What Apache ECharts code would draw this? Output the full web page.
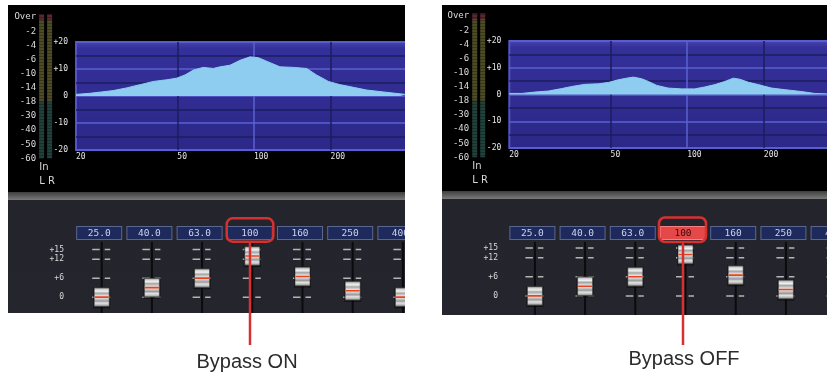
<!DOCTYPE html>
<html><head><meta charset="utf-8">
<script src="https://cdn.jsdelivr.net/npm/echarts@6/dist/echarts.min.js"></script>
<style>
html,body{margin:0;padding:0;background:#fff;width:827px;height:373px;overflow:hidden;}
.p{position:absolute;overflow:hidden;}
</style></head><body>
<div id="left" class="p" style="left:8px;top:5px;width:397px;height:368px;background:linear-gradient(to bottom,#000 0,#000 187px,#3e3e3e 187px,#7a7a7a 195px,#24252c 195px,#25262d 308px,#fff 308px,#fff 368px)"></div>
<div id="right" class="p" style="left:442px;top:5px;width:385px;height:368px;background:linear-gradient(to bottom,#000 0,#000 186px,#3e3e3e 186px,#7a7a7a 194px,#24252c 194px,#25262d 310px,#fff 310px,#fff 368px)"></div>
<script>
// ---- data ----
const meterLabels = ['-60','-50','-40','-30','-18','-14','-10','-6','-4','-2','Over'];
const meterTickIdx = [0,1,2,3,4,5,6,7,8,9,10];
const meterChannels = ['L','R'];
const meterGreen = [4, 4];
const meterOlive = [5.8, 5.8];
const meterRed = [0.4, 0.4];

const eqLabelFreqs = [20, 50, 100, 200];
const eqGridFreqs = [50, 100, 200];
const eqGainTicks = [-20, -10, 0, 10, 20];

const freqOn = [20, 22.7, 25.2, 28, 31.6, 35.7, 40.3, 45.4, 49.7, 53.6, 57.8, 63.2, 69.2, 73.6, 80.5, 88.1, 96.5, 104, 112, 126.5, 143, 161, 176, 196, 218, 246, 277, 322, 375, 392];
const gainOn = [0.6, 1, 1.5, 2, 3, 4.2, 5.4, 6, 6.6, 7.8, 9.6, 10.6, 10.2, 10.8, 11.4, 13.2, 14.5, 14.2, 12.9, 10.8, 10.6, 10.2, 7.8, 5.4, 4.2, 3.2, 2.2, 1.5, 0.8, 0.6];

const freqOff = [20, 22.4, 25.2, 28.5, 32.1, 35.2, 39.7, 44.8, 49, 53.6, 57.8, 61.4, 66.2, 70.3, 75.9, 84.2, 95.1, 107, 117, 128.5, 140.7, 151.7, 161, 173.7, 190, 214.6, 242, 281, 317, 355];
const gainOff = [0.4, 0.4, 0.9, 1.3, 2.2, 3, 3.8, 4, 4.5, 5.5, 6.1, 6.5, 5.9, 4.9, 3.4, 2.4, 2.1, 2.1, 2.8, 3.7, 4.9, 6.1, 5.7, 4.6, 3.7, 2.4, 1.8, 1.1, 0.4, 0.2];

const bands = ['25.0', '40.0', '63.0', '100', '160', '250', '400'];
const faderGain = [0, 3, 6, 13, 6.5, 2, 0];
const faderTicks = [15, 12, 6, 0];
const bypassBand = '100';
const panelTitles = ['Bypass ON', 'Bypass OFF'];

// ---- rendering ----
const MONO = '"DejaVu Sans Mono", monospace';

function faderRender(params, api) {
  const cs = params.coordSys;
  const i = api.value(0);
  const p = api.coord([i, api.value(1)]);
  const x = p[0];
  const ch = [];
  ch.push({type:'line', shape:{x1:x, y1:cs.y, x2:x, y2:cs.y+cs.height}, style:{stroke:'#0b0b0d', lineWidth:2}});
  faderTicks.forEach(t => {
    const ty = api.coord([i, t])[1];
    ch.push({type:'line', shape:{x1:x-9.5, y1:ty, x2:x-2, y2:ty}, style:{stroke:'#b4b4b4', lineWidth:1.5}});
    ch.push({type:'line', shape:{x1:x+3, y1:ty, x2:x+8.5, y2:ty}, style:{stroke:'#b4b4b4', lineWidth:1.5}});
  });
  const y = p[1];
  ch.push({type:'rect', shape:{x:x-8.5, y:y-10, width:17, height:21}, style:{fill:'rgba(0,0,0,0.55)'}});
  ch.push({type:'rect', shape:{x:x-7.5, y:y-9.5, width:15, height:19}, style:{
    fill: new echarts.graphic.LinearGradient(0,0,0,1,[
      {offset:0,color:'#5a5a5a'},{offset:0.1,color:'#cfcfcf'},{offset:0.2,color:'#f0f0f0'},
      {offset:0.3,color:'#a4a4a4'},{offset:0.42,color:'#dadada'},{offset:0.5,color:'#f4f4f4'},
      {offset:0.58,color:'#d0d0d0'},{offset:0.7,color:'#9a9a9a'},{offset:0.8,color:'#e2e2e2'},
      {offset:0.9,color:'#bababa'},{offset:1,color:'#484848'}]),
    stroke:'#3a3a3a', lineWidth:0.6}});
  ch.push({type:'rect', shape:{x:x-7, y:y-0.8, width:14, height:1.6}, style:{fill:'#e8421e'}});
  return {type:'group', children: ch};
}

function panelOption(cfg) {
  const decal = {symbol:'rect', symbolSize:1, dashArrayX:[1,0], dashArrayY:[1,1.2], rotation:0, color:'rgba(0,0,0,0.28)'};
  const boxBase = {width:42, height:9.5, lineHeight:9.5, align:'center', padding:[1.5,1,1,1], borderWidth:1, fontSize:9.5, fontFamily:MONO};
  return {
    animation: false,
    grid: [
      {left: cfg.meterLeft, top: cfg.meterTop, width: 16, height: 144, outerBoundsMode:'none', containLabel:false},
      {left: cfg.eqLeft, top: cfg.eqTop, width: cfg.eqWidth, height: cfg.eqHeight, show: true, outerBoundsMode:'none', containLabel:false,
       backgroundColor: new echarts.graphic.LinearGradient(0,0,0,1,[
         {offset:0,color:'#4a46ae'},{offset:0.07,color:'#34309a'},{offset:1,color:'#2c2888'}]),
       borderColor: '#5454c8', borderWidth: 2},
      {left: cfg.fLeft, top: cfg.fTop, width: 351.4, height: cfg.fHeight, outerBoundsMode:'none', containLabel:false}
    ],
    xAxis: [
      {gridIndex:0, type:'category', data: meterChannels, show:false},
      {gridIndex:1, type:'log', logBase:10, min:20, max:cfg.eqMax,
       axisLine:{show:false}, axisTick:{show:false, customValues: eqGridFreqs},
       splitLine:{show:true, lineStyle:{color:['#1d1d5e','#5a62d2','#1d1d5e'], width:1.5}},
       axisLabel:{customValues: eqLabelFreqs, align:'left', margin:3, color:'#e6e6e6', fontSize:8, fontFamily:MONO}},
      {gridIndex:2, type:'category', data: bands, position:'top',
       axisLine:{show:false}, axisTick:{show:false}, splitLine:{show:false},
       axisLabel:{margin:4, interval:0, padding:[0,5,0,0], hideOverlap:false,
         formatter: v => (cfg.hi === v ? '{h|' + v + '}' : '{n|' + v + '}'),
         rich:{
           n: Object.assign({}, boxBase, {backgroundColor:'#1f2a5c', borderColor:'#5a668f', color:'#c9d3f2'}),
           h: Object.assign({}, boxBase, {backgroundColor:'#e44848', borderColor:'#f58080', color:'#3b0808'})
         }}}
    ],
    yAxis: [
      {gridIndex:0, type:'value', min:0, max:10.2, axisLine:{show:false}, axisTick:{show:false}, splitLine:{show:false},
       axisLabel:{customValues: meterTickIdx, formatter: v => meterLabels[Math.round(v)] || '', margin:1.5, color:'#dcdcdc', fontSize:9, fontFamily:MONO}},
      {gridIndex:1, type:'value', min:-20, max:20, interval:5, axisLine:{show:false}, axisTick:{show:false},
       splitLine:{show:true, lineStyle:{color:['#5a62d2','#1d1d5e'], width:1.5}},
       axisLabel:{customValues: eqGainTicks, formatter: v => (v > 0 ? '+' + v : String(v)), margin:8, color:'#e6e6e6', fontSize:8, fontFamily:MONO}},
      {gridIndex:2, type:'value', min:cfg.fMin, max:cfg.fMax, axisLine:{show:false}, axisTick:{show:false}, splitLine:{show:false},
       axisLabel:{customValues: faderTicks, formatter: v => (v > 0 ? '+' + v : String(v)), margin:cfg.fMargin, color:'#d8d8d8', fontSize:8, fontFamily:MONO}}
    ],
    series: [
      {type:'bar', xAxisIndex:0, yAxisIndex:0, stack:'m', barWidth:5, data: meterGreen, itemStyle:{color:'#21423a', decal}},
      {type:'bar', xAxisIndex:0, yAxisIndex:0, stack:'m', barWidth:5, data: meterOlive, itemStyle:{color:'#4d4c27', decal}},
      {type:'bar', xAxisIndex:0, yAxisIndex:0, stack:'m', barWidth:5, data: meterRed, itemStyle:{color:'#5c2632', decal}},
      {type:'line', xAxisIndex:1, yAxisIndex:1, data: cfg.freq.map((f, k) => [f, cfg.gain[k]]),
       showSymbol:false, lineStyle:{width:1, color:'#8ecdf0'}, areaStyle:{color:'#8ecdf0', opacity:1}, z:3},
      {type:'custom', xAxisIndex:2, yAxisIndex:2, data: faderGain.map((g, k) => [k, g]), renderItem: faderRender, clip:true, z:4}
    ],
    graphic: [
      {type:'text', z:100, style:{text:'In', x:cfg.inX, y:cfg.inY, fill:'#d8d8d8', fontSize:10, fontFamily:'"DejaVu Sans"', align:'left', verticalAlign:'middle'}},
      {type:'text', z:100, style:{text:'L R', x:cfg.inX, y:cfg.inY+13.5, fill:'#d8d8d8', fontSize:10, fontFamily:'"DejaVu Sans"', align:'left', verticalAlign:'middle'}},
      {type:'rect', z:100, shape:cfg.hl, style:{fill:'none', stroke:'#d63030', lineWidth:2.5}},
      {type:'line', z:100, shape:cfg.ln, style:{stroke:'#d63030', lineWidth:2.5}},
      {type:'text', z:100, style:{text:cfg.title, x:cfg.tx, y:cfg.ty, fill:'#2b2b2b', fontSize:20, fontFamily:'"Liberation Sans", Arial, sans-serif', align:'center', verticalAlign:'middle'}}
    ]
  };
}

const left = echarts.init(document.getElementById('left'), null, {renderer:'canvas'});
left.setOption(panelOption({
  meterLeft:29.6, meterTop:9.3,
  eqLeft:68, eqTop:37, eqWidth:332, eqHeight:108, eqMax:402.7,
  fLeft:68.6, fTop:236.7, fHeight:71.3, fMin:-5, fMax:17.5, fMargin:12.6,
  freq: freqOn, gain: gainOn, hi: null,
  inX:31.3, inY:162.5,
  hl:{x:218.7, y:213.3, width:46.6, height:23.4, r:6},
  ln:{x1:242, y1:236.7, x2:242, y2:340},
  title: panelTitles[0], tx:239, ty:357.5
}));

const right = echarts.init(document.getElementById('right'), null, {renderer:'canvas'});
right.setOption(panelOption({
  meterLeft:28.7, meterTop:8.3,
  eqLeft:67.3, eqTop:36, eqWidth:321, eqHeight:107, eqMax:364.8,
  fLeft:67.8, fTop:236.7, fHeight:73.3, fMin:-6, fMax:17, fMargin:11.8,
  freq: freqOff, gain: gainOff, hi: bypassBand,
  inX:30.3, inY:161.7,
  hl:{x:217, y:212.5, width:47, height:24.5, r:6},
  ln:{x1:241, y1:237, x2:241, y2:340},
  title: panelTitles[1], tx:242, ty:354
}));
</script>
</body></html>
